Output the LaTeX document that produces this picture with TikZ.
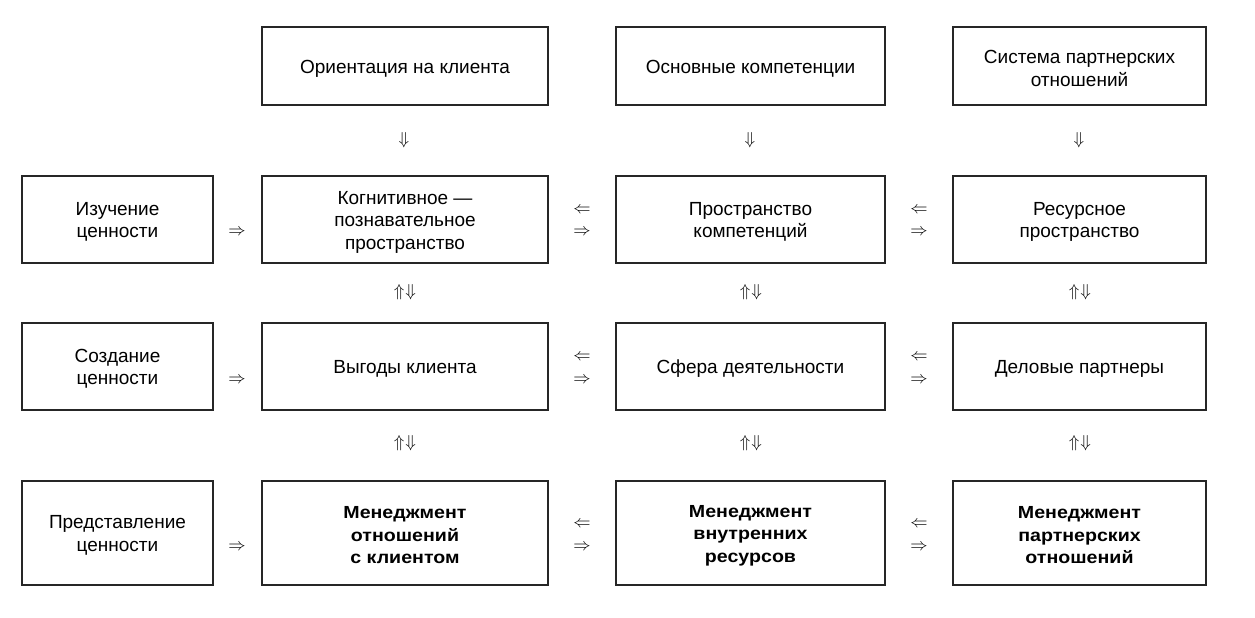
\documentclass[tikz,border=0pt]{standalone}
\usepackage{fontspec}
\setmainfont{Liberation Sans}
\newfontfamily\bfont[FakeStretch=1.12]{Liberation Sans Bold}
\begin{document}
\begin{tikzpicture}[x=1pt,y=-1pt,
  frame/.style={draw=black!85, line width=1.3pt, fill=white, inner sep=0pt},
  txt/.style={align=center, inner sep=0pt, font=\fontsize{19}{22.5}\selectfont},
  btxt/.style={align=center, inner sep=0pt, font=\bfont\fontsize{17.5}{22.5}\selectfont},
  harr/.style={inner sep=0pt, font=\fontsize{18}{18}\selectfont},
  uarr/.style={inner sep=0pt, font=\fontsize{19}{19}\selectfont}]
\useasboundingbox (0,0) rectangle (1255,618);
% top row
\node[frame, minimum width=286, minimum height=78] (t1) at (405,66) {};
\node[frame, minimum width=269, minimum height=78] (t2) at (750.5,66) {};
\node[frame, minimum width=253, minimum height=78] (t3) at (1079.5,66) {};
% row 1
\node[frame, minimum width=191, minimum height=87] (a0) at (117.5,219.5) {};
\node[frame, minimum width=286, minimum height=87] (a1) at (405,219.5) {};
\node[frame, minimum width=269, minimum height=87] (a2) at (750.5,219.5) {};
\node[frame, minimum width=253, minimum height=87] (a3) at (1079.5,219.5) {};
% row 2
\node[frame, minimum width=191, minimum height=87] (b0) at (117.5,366.5) {};
\node[frame, minimum width=286, minimum height=87] (b1) at (405,366.5) {};
\node[frame, minimum width=269, minimum height=87] (b2) at (750.5,366.5) {};
\node[frame, minimum width=253, minimum height=87] (b3) at (1079.5,366.5) {};
% row 3
\node[frame, minimum width=191, minimum height=104] (c0) at (117.5,533) {};
\node[frame, minimum width=286, minimum height=104] (c1) at (405,533) {};
\node[frame, minimum width=269, minimum height=104] (c2) at (750.5,533) {};
\node[frame, minimum width=253, minimum height=104] (c3) at (1079.5,533) {};
% texts
\node[txt] (t1x) at ([yshift=-2.5pt]t1.center) {Ориентация на клиента};
\node[txt] (t2x) at ([yshift=-2.5pt]t2.center) {Основные компетенции};
\node[txt] (t3x) at ([yshift=-2.5pt]t3.center) {Система партнерских\\отношений};
\node[txt] (a0x) at ([yshift=-2.5pt]a0.center) {Изучение\\ценности};
\node[txt] (a1x) at ([yshift=-2.5pt]a1.center) {Когнитивное —\\познавательное\\пространство};
\node[txt] (a2x) at ([yshift=-2.5pt]a2.center) {Пространство\\компетенций};
\node[txt] (a3x) at ([yshift=-2.5pt]a3.center) {Ресурсное\\пространство};
\node[txt] (b0x) at ([yshift=-2.5pt]b0.center) {Создание\\ценности};
\node[txt] (b1x) at ([yshift=-2.5pt]b1.center) {Выгоды клиента};
\node[txt] (b2x) at ([yshift=-2.5pt]b2.center) {Сфера деятельности};
\node[txt] (b3x) at ([yshift=-2.5pt]b3.center) {Деловые партнеры};
\node[txt] (c0x) at ([yshift=-2.5pt]c0.center) {Представление\\ценности};
\node[btxt] (c1x) at ([yshift=-2.5pt]c1.center) {Менеджмент\\отношений\\с клиентом};
\node[btxt] (c2x) at ([yshift=-2.5pt]c2.center) {Менеджмент\\внутренних\\ресурсов};
\node[btxt] (c3x) at ([yshift=-2.5pt]c3.center) {Менеджмент\\партнерских\\отношений};
% down arrows from top row
\node[uarr] (d1) at (404,140) {$\Downarrow$};
\node[uarr] (d2) at (750,140) {$\Downarrow$};
\node[uarr] (d3) at (1079,140) {$\Downarrow$};
% vertical double arrows
\foreach \x/\n in {405/1, 751/2, 1080/3}{
  \node[uarr] (u1\n) at (\x,292) {$\Uparrow\mkern1mu\Downarrow$};
  \node[uarr] (u2\n) at (\x,443) {$\Uparrow\mkern1mu\Downarrow$};
}
% right arrows from col0
\node[harr] (r1) at (237,232) {$\Rightarrow$};
\node[harr] (r2) at (237,380) {$\Rightarrow$};
\node[harr] (r3) at (237,547) {$\Rightarrow$};
% bidirectional pairs
\foreach \x/\n in {582/p, 919/q}{
  \node[harr] (\n1l) at (\x,210.5) {$\Leftarrow$};
  \node[harr] (\n1r) at (\x,232.5) {$\Rightarrow$};
  \node[harr] (\n2l) at (\x,357) {$\Leftarrow$};
  \node[harr] (\n2r) at (\x,380) {$\Rightarrow$};
  \node[harr] (\n3l) at (\x,524) {$\Leftarrow$};
  \node[harr] (\n3r) at (\x,547) {$\Rightarrow$};
}
\end{tikzpicture}
\end{document}
